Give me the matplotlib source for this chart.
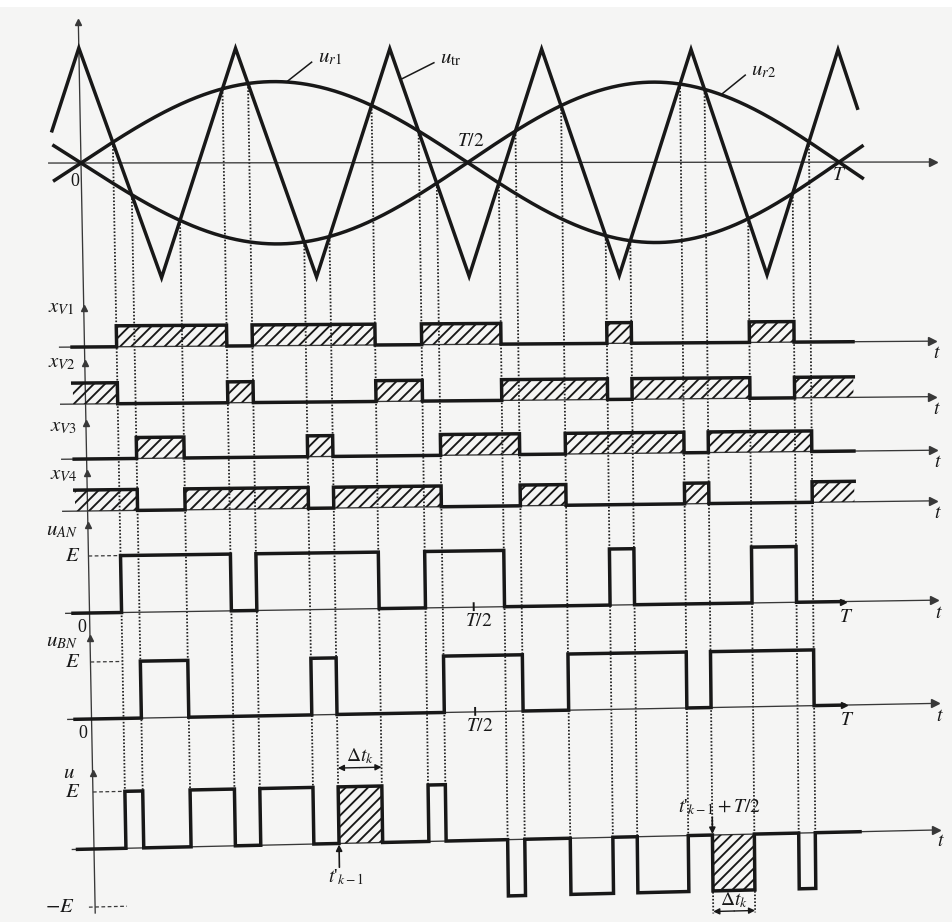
import numpy as np
import matplotlib
matplotlib.use("Agg")
import matplotlib.pyplot as plt
import matplotlib.transforms as mtransforms
from matplotlib.lines import Line2D
from matplotlib.patches import Polygon, Rectangle

# ---------------- data (time in units of T) ----------------
carrier_t = [-0.036, 0.0, 0.1, 0.2, 0.3, 0.4, 0.5, 0.6, 0.7, 0.8, 0.9, 1.0, 1.026]
carrier_v = [0.28, 1.0, -1.0, 1.0, -1.0, 1.0, -1.0, 1.0, -1.0, 1.0, -1.0, 1.0, 0.48]
ref_amplitude = 0.71            # u_r1 = m sin(2 pi t / T),  u_r2 = -u_r1
ref_span = [-0.034, 1.032]
xv_names = [r"$x_{V1}$", r"$x_{V2}$", r"$x_{V3}$", r"$x_{V4}$"]
out_names = [r"$u_{AN}$", r"$u_{BN}$", r"$u$"]
marked_edges = [6, 16]          # t'_{k-1} and t'_{k-1}+T/2 (index in the sorted switching instants)

# ---------------- signal definitions ----------------
def carrier(t):
    return np.interp(t, carrier_t, carrier_v)

def ref1(t):
    return ref_amplitude * np.sin(2 * np.pi * np.asarray(t))

def ref2(t):
    return -ref1(t)

def crossings(ref):
    tt = np.linspace(0.0, 1.0, 40001)
    f = carrier(tt) - ref(tt)
    i = np.where(np.sign(f[:-1]) != np.sign(f[1:]))[0]
    return tt[i] - f[i] * (tt[i + 1] - tt[i]) / (f[i + 1] - f[i])

switch_t = np.sort(np.concatenate([crossings(ref1), crossings(ref2)]))

xv_funcs = [
    lambda t: (ref1(t) > carrier(t)).astype(float),
    lambda t: (ref1(t) <= carrier(t)).astype(float),
    lambda t: (ref2(t) > carrier(t)).astype(float),
    lambda t: (ref2(t) <= carrier(t)).astype(float),
]
out_funcs = [xv_funcs[0], xv_funcs[2], lambda t: xv_funcs[0](t) - xv_funcs[2](t)]

def steps(fn, t0, t1):
    b = np.concatenate([[t0], switch_t[(switch_t > t0) & (switch_t < t1)], [t1]])
    lv = fn((b[:-1] + b[1:]) / 2)
    return np.repeat(b, 2)[1:-1], np.repeat(lv, 2), b, lv

# ---------------- layout (pixel rows of the page) ----------------
W_PX, H_PX = 952, 922
X0, SPAN = 81.0, 758.0
TOP, AMP = 163.0, 115.0
XV_BASE = [347.0, 404.0, 459.0, 511.0]
XV_H = 21.0
OUT_BASE = [613.0, 719.0, 849.0]
E_H = 57.0

def T(px):
    return (px - X0) / SPAN

class PageWarp(mtransforms.Transform):
    """Mimics the slight perspective of the scanned page."""
    input_dims = 2
    output_dims = 2
    is_separable = False
    has_inverse = False
    STRETCH = 0.04
    P00, P10, P01, P11 = (81.0, 163.0), (930.0, 162.0), (94.0, 849.0), (935.0, 830.0)

    def transform_non_affine(self, values):
        v = np.asarray(values, dtype=float)
        nd = v.ndim
        v = v.reshape(-1, 2)
        xi = v[:, 0].copy()
        yi = H_PX - v[:, 1]
        tt = (xi - X0) / SPAN
        xi = xi + SPAN * self.STRETCH * tt * (1 - tt)
        u = (xi - 81.0) / (930.0 - 81.0)
        w = (yi - 163.0) / (849.0 - 163.0)
        P00, P10, P01, P11 = self.P00, self.P10, self.P01, self.P11
        xo = (1-u)*(1-w)*P00[0] + u*(1-w)*P10[0] + (1-u)*w*P01[0] + u*w*P11[0]
        yo = (1-u)*(1-w)*P00[1] + u*(1-w)*P10[1] + (1-u)*w*P01[1] + u*w*P11[1]
        out = np.column_stack([xo, H_PX - yo])
        return out.reshape(-1) if nd == 1 else out

BG = "#f5f5f4"
INK = "#181818"
THIN = "#383838"
LW_K = 2.5
LW_T = 0.95

plt.rcParams["font.family"] = ["Liberation Serif", "DejaVu Serif"]
plt.rcParams["mathtext.fontset"] = "stix"
plt.rcParams["hatch.linewidth"] = 1.35
plt.rcParams["hatch.color"] = INK

fig = plt.figure(figsize=(W_PX / 100, H_PX / 100), dpi=100, facecolor=BG)
fig.patches.append(Rectangle((0, 1 - 7 / H_PX), 1, 7 / H_PX, transform=fig.transFigure,
                             facecolor="white", edgecolor="none", zorder=-5))
ax = fig.add_axes([0, 0, 1, 1])
ax.set_axis_off()
ax.set_xlim(T(0), T(W_PX))
ax.set_ylim(H_PX, 0)
ax.set_autoscale_on(False)
tr = ax.transData + PageWarp()

def add_line(xs, ys, **kw):
    kw.setdefault("zorder", 3)
    ln = Line2D(np.asarray(xs, float), np.asarray(ys, float), transform=tr, clip_on=False, **kw)
    ax.add_line(ln)
    return ln

def add_text(x, y, s, **kw):
    kw.setdefault("ha", "center")
    kw.setdefault("va", "center")
    kw.setdefault("color", INK)
    return ax.text(x, y, s, transform=tr, clip_on=False, **kw)

def hatch_box(ta, tb, y_a, y_b):
    p = Polygon([[ta, y_a], [tb, y_a], [tb, y_b], [ta, y_b]], closed=True, transform=tr,
                facecolor="none", edgecolor=INK, linewidth=0, hatch="///", clip_on=False, zorder=2)
    ax.add_patch(p)

def arrow(p_from, p_to, style="-|>", lw=1.0):
    ax.annotate("", xy=p_to, xytext=p_from, xycoords=tr, textcoords=tr,
                arrowprops=dict(arrowstyle=style, color=INK, lw=lw, shrinkA=0, shrinkB=0,
                                mutation_scale=9), zorder=4)

def h_axis(y, t_from=T(55), t_to=T(936)):
    add_line([t_from, t_to], [y, y], color=THIN, lw=LW_T, zorder=2)
    add_line([t_to], [y], marker=">", ms=6, color=THIN, lw=0, zorder=2)

# ---------------- vertical axis ----------------
add_line([0, 0], [22, 913], color=THIN, lw=LW_T, zorder=2)
add_line([0] * 8, [22, 308, 363, 423, 473, 525, 638, 773], marker="^", ms=5,
         color=THIN, lw=0, zorder=2)

# ---------------- top panel ----------------
h_axis(TOP, T(50), T(937))
add_line(carrier_t, TOP - AMP * np.asarray(carrier_v), color=INK, lw=LW_K,
         solid_joinstyle="miter", zorder=3)
tr_s = np.linspace(ref_span[0], ref_span[1], 800)
add_line(tr_s, TOP - AMP * ref1(tr_s), color=INK, lw=LW_K, zorder=3)
add_line(tr_s, TOP - AMP * ref2(tr_s), color=INK, lw=LW_K, zorder=3)

# leaders and names
for t_s, fn, name, dx, dy in [(0.265, ref1, r"$u_{r1}$", 0.033, -20),
                              (0.4135, carrier, r"$u_{\rm tr}$", 0.044, -17),
                              (0.840, ref2, r"$u_{r2}$", 0.033, -20)]:
    y_s = TOP - AMP * float(fn(t_s))
    add_line([t_s, t_s + dx], [y_s, y_s + dy], color=INK, lw=1.1, zorder=3)
    add_text(t_s + dx + 0.008, y_s + dy - 4, name, ha="left", fontsize=15)

add_text(T(75), 181, "0", fontsize=13)
add_text(1.0, 177, r"$T$", fontsize=14)
add_text(0.487, 142, r"$T/2$", ha="left", fontsize=14)

# ---------------- dotted switching lines ----------------
u_fn = out_funcs[2]
for i, ts in enumerate(switch_t):
    y_top = TOP - AMP * float(carrier(ts))
    lv = max(float(u_fn(ts - 1e-4)), float(u_fn(ts + 1e-4)))
    if i in (marked_edges[1], marked_edges[1] + 1):
        y_end = OUT_BASE[2] + 80
    else:
        y_end = OUT_BASE[2] - E_H * max(lv, 0.0)
    add_line([ts, ts], [y_top, y_end], color="#222222", lw=1.3,
             linestyle=(0, (0.9, 1.0)), zorder=1)

# ---------------- x_V rows ----------------
label_y = [308, 363, 427, 475]
for k in range(4):
    base = XV_BASE[k]
    h_axis(base, T(57), T(935))
    x, y, b, lv = steps(xv_funcs[k], T(69), T(852))
    add_line(x, base - XV_H * y, color=INK, lw=LW_K, solid_joinstyle="miter", zorder=3)
    for j in range(len(lv)):
        if lv[j] > 0:
            hatch_box(b[j], b[j + 1], base, base - XV_H)
    add_text(T(59), label_y[k], xv_names[k], fontsize=15)
    add_text(T(940), base + 13, r"$t$", fontsize=14)

# ---------------- u_AN, u_BN rows ----------------
name_y = [530, 641]
for k in range(2):
    base = OUT_BASE[k]
    h_axis(base, T(58), T(935))
    x, y, b, lv = steps(out_funcs[k], T(65), 1.0)
    add_line(x, base - E_H * y, color=INK, lw=LW_K, solid_joinstyle="miter", zorder=3)
    add_line([1.0], [base], marker=">", ms=5, color=INK, lw=0, zorder=3)
    first_rise = b[1]
    add_line([0, first_rise], [base - E_H] * 2, color=THIN, lw=0.9,
             linestyle=(0, (3, 2)), zorder=2)
    add_line([0.5, 0.5], [base - 4, base + 3], color=INK, lw=1.4, zorder=3)
    add_text(0.5 + 0.006, base + 15, r"$T/2$", fontsize=14)
    add_text(1.0 + 0.004, base + 16, r"$T$", fontsize=14)
    add_text(T(73 - k), base + 14, "0", fontsize=13)
    add_text(T(56 - 2 * k), name_y[k], out_names[k], fontsize=15)
    add_text(T(66 - 2 * k), base - E_H, r"$E$", fontsize=15)
    add_text(T(940), base + 14, r"$t$", fontsize=14)

# ---------------- u row ----------------
base = OUT_BASE[2]
h_axis(base, T(60), T(935))
x, y, b, lv = steps(out_funcs[2], T(65), T(855))
add_line(x, base - E_H * y, color=INK, lw=LW_K, solid_joinstyle="miter", zorder=3)
for ie in marked_edges:
    ta, tb = switch_t[ie], switch_t[ie + 1]
    level = float(out_funcs[2]((ta + tb) / 2))
    hatch_box(ta, tb, base, base - E_H * level)
first = switch_t[0]
add_line([0, first], [base - E_H] * 2, color=THIN, lw=0.9, linestyle=(0, (3, 2)), zorder=2)
add_line([T(75), first], [base + E_H + 1] * 2, color=THIN, lw=0.9, linestyle=(0, (3, 2)), zorder=2)
add_text(T(58), 773, out_names[2], fontsize=15)
add_text(T(61), base - E_H, r"$E$", fontsize=15)
add_text(T(47), base + E_H + 1, r"$-E$", fontsize=15)
add_text(T(940), base + 12, r"$t$", fontsize=14)

# Δt_k above the hatched positive pulse
ta, tb = switch_t[marked_edges[0]], switch_t[marked_edges[0] + 1]
arrow(((ta + tb) / 2, base - E_H - 19), (ta, base - E_H - 19), style="-|>")
arrow(((ta + tb) / 2, base - E_H - 19), (tb, base - E_H - 19), style="-|>")
add_text((ta + tb) / 2, base - E_H - 31, r"$\Delta t_k$", fontsize=14)
arrow((ta, base + 24), (ta, base + 1), style="-|>", lw=1.2)
add_text(ta + 0.008, base + 34, r"$t$'$_{k-1}$", fontsize=14)

# Δt_k below the hatched negative pulse
ta, tb = switch_t[marked_edges[1]], switch_t[marked_edges[1] + 1]
arrow(((ta + tb) / 2, base + 78), (ta, base + 78), style="-|>")
arrow(((ta + tb) / 2, base + 78), (tb, base + 78), style="-|>")
add_text((ta + tb) / 2, base + 67, r"$\Delta t_k$", fontsize=14)
arrow((ta, base - 18), (ta, base - 1), style="-|>", lw=1.2)
add_text(ta + 0.01, base - 28, r"$t$'$_{k-1}+T/2$", fontsize=14)

ax.set_xlim(T(0), T(W_PX))
ax.set_ylim(H_PX, 0)
fig.savefig("out.png", dpi=100, facecolor=BG)
